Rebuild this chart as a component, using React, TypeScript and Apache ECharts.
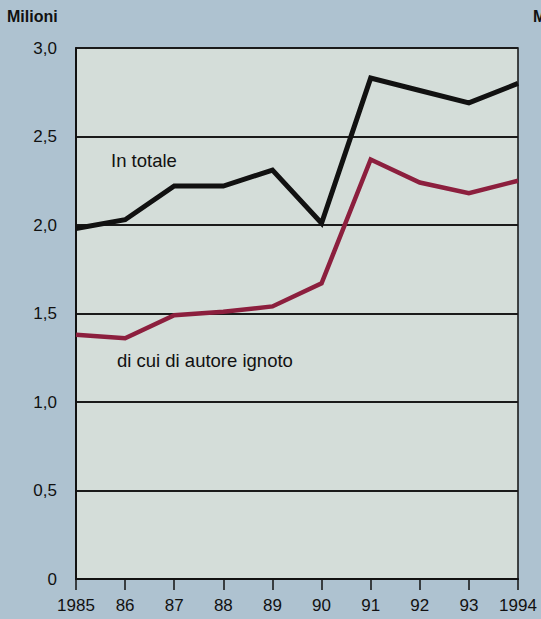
import React, { useEffect, useRef } from "react";
import * as echarts from "echarts";

const years = [1985, 1986, 1987, 1988, 1989, 1990, 1991, 1992, 1993, 1994];
const totale = [1.98, 2.03, 2.22, 2.22, 2.31, 2.01, 2.83, 2.76, 2.69, 2.8];
const ignoto = [1.38, 1.36, 1.49, 1.51, 1.54, 1.67, 2.37, 2.24, 2.18, 2.25];
const yTicks = [0, 0.5, 1, 1.5, 2, 2.5, 3];

const FONT = "'Liberation Sans', Arial, sans-serif";

export default function App() {
  const ref = useRef<HTMLDivElement>(null);
  useEffect(() => {
    if (!ref.current) return;
    const chart = echarts.init(ref.current, null, { renderer: "svg" });
    chart.setOption({
      animation: false,
      backgroundColor: "#aec2d0",
      textStyle: { fontFamily: FONT },
      grid: {
        left: 76,
        right: 23,
        top: 48,
        bottom: 40,
        show: true,
        backgroundColor: "#d4ddd9",
        borderColor: "#111",
        borderWidth: 1.5,
      },
      graphic: [
        { type: "text", left: 7, top: 8, style: { text: "Milioni", fontSize: 16, fontWeight: 600, fill: "#111", fontFamily: FONT } },
        { type: "text", left: 533, top: 8, style: { text: "Milioni", fontSize: 16, fontWeight: 600, fill: "#111", fontFamily: FONT } },
        { type: "text", left: 111, top: 151, style: { text: "In totale", fontSize: 18.5, fill: "#111", fontFamily: FONT } },
        { type: "text", left: 117, top: 351, style: { text: "di cui di autore ignoto", fontSize: 18.5, fill: "#111", fontFamily: FONT } },
      ],
      xAxis: {
        type: "value",
        min: 1985,
        max: 1994,
        interval: 1,
        axisLine: { show: true, lineStyle: { color: "#111", width: 2 } },
        axisTick: { show: true, inside: false, length: 11, lineStyle: { color: "#111", width: 1.5 } },
        splitLine: { show: false },
        axisLabel: {
          color: "#111",
          fontSize: 17,
          margin: 18,
          fontFamily: FONT,
          formatter: (v: number) => (v === years[0] || v === years[years.length - 1] ? String(v) : String(v).slice(2)),
        },
      },
      yAxis: {
        type: "value",
        min: yTicks[0],
        max: yTicks[yTicks.length - 1],
        interval: 0.5,
        axisLine: { show: true, lineStyle: { color: "#111", width: 2 } },
        axisTick: { show: false },
        splitLine: { show: true, lineStyle: { color: "#1a1a1a", width: 1.8 } },
        axisLabel: {
          color: "#111",
          fontSize: 17,
          margin: 19,
          padding: [4, 0, 0, 0],
          fontFamily: FONT,
          formatter: (v: number) => (v === 0 ? "0" : v.toFixed(1).replace(".", ",")),
        },
      },
      series: [
        {
          name: "In totale",
          type: "line",
          data: years.map((y, i) => [y, totale[i]]),
          symbol: "none",
          lineStyle: { color: "#111", width: 5, join: "miter" },
          z: 3,
        },
        {
          name: "di cui di autore ignoto",
          type: "line",
          data: years.map((y, i) => [y, ignoto[i]]),
          symbol: "none",
          lineStyle: { color: "#8c1f3e", width: 4.5, join: "miter" },
          z: 2,
        },
      ],
    });
    return () => chart.dispose();
  }, []);
  return (
    <div
      ref={ref}
      style={{ position: "absolute", left: 0, top: 0, width: 541, height: 619 }}
    />
  );
}
